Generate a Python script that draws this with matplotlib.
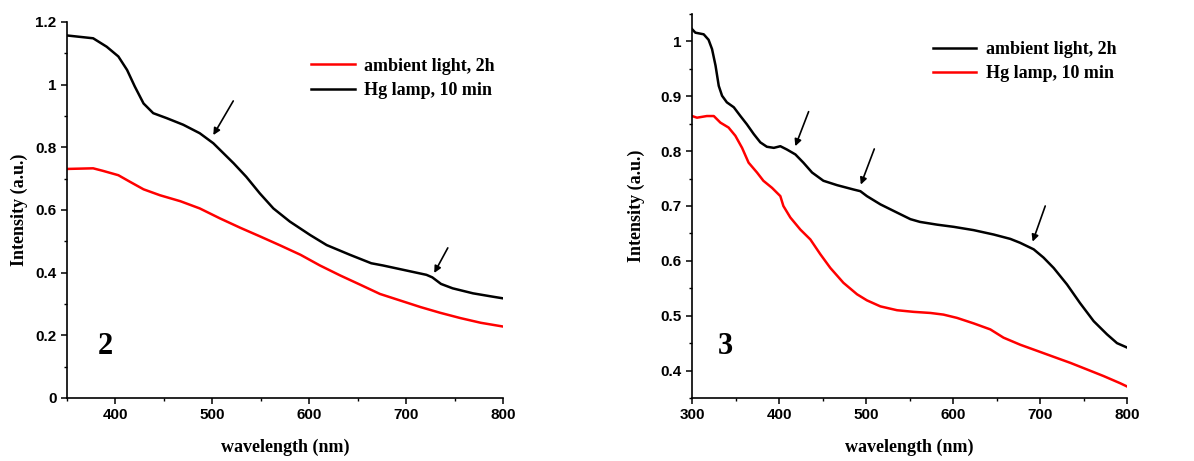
import matplotlib
matplotlib.use("Agg")
import matplotlib.pyplot as plt
import numpy as np
from matplotlib.ticker import MultipleLocator

# panel 2 spectra
wl2_hg = [350, 377, 391, 403, 412, 420, 429, 439, 453, 470, 487, 501, 522, 535, 549,
          563, 580, 601, 618, 642, 664, 676, 700, 721, 727, 736, 748, 769, 790, 800]
int2_hg = [1.157, 1.148, 1.121, 1.09, 1.047, 0.994, 0.94, 0.909, 0.893, 0.872, 0.845,
           0.813, 0.749, 0.706, 0.653, 0.605, 0.563, 0.520, 0.488, 0.457, 0.430, 0.423,
           0.407, 0.393, 0.385, 0.364, 0.350, 0.334, 0.323, 0.318]
wl2_amb = [350, 377, 387, 403, 415, 429, 446, 467, 487, 508, 529, 549, 570, 591, 611,
           632, 653, 673, 694, 715, 735, 756, 777, 800]
int2_amb = [0.731, 0.733, 0.725, 0.711, 0.690, 0.666, 0.647, 0.628, 0.605, 0.573, 0.543,
            0.516, 0.487, 0.457, 0.423, 0.391, 0.361, 0.332, 0.311, 0.290, 0.272, 0.255,
            0.240, 0.228]

# panel 3 spectra
wl3_amb = [300, 303.8, 313.4, 319, 323, 327, 330.7, 334.5, 340, 348, 355.6, 363, 371,
           378.5, 386, 394, 401.5, 409, 418.8, 428, 438, 451, 466.7, 485.8, 493.5, 501,
           516.5, 535.6, 551, 562, 581.6, 600.8, 623.7, 646.7, 665.9, 677, 692.7, 704,
           715.7, 731, 746, 761.7, 777, 788.5, 800]
int3_amb = [1.0225, 1.016, 1.013, 1.003, 0.986, 0.956, 0.919, 0.901, 0.889, 0.880, 0.864,
            0.849, 0.831, 0.816, 0.808, 0.806, 0.809, 0.803, 0.794, 0.779, 0.761, 0.746,
            0.738, 0.730, 0.727, 0.718, 0.703, 0.688, 0.676, 0.671, 0.666, 0.662, 0.656,
            0.648, 0.640, 0.633, 0.621, 0.606, 0.587, 0.557, 0.523, 0.490, 0.466, 0.450,
            0.442]
wl3_hg = [300, 305.7, 317, 325, 332.6, 342, 349.8, 357.5, 365, 374.7, 382, 392, 401.5,
          405, 413, 424.5, 436, 447.5, 459, 474, 489.7, 501, 516.5, 535.6, 554.8, 574,
          589, 604.6, 623.7, 642.9, 658, 677.4, 696.6, 715.7, 734.9, 754, 773, 792, 800]
int3_hg = [0.864, 0.861, 0.864, 0.864, 0.852, 0.843, 0.828, 0.806, 0.779, 0.761, 0.746,
           0.733, 0.718, 0.700, 0.679, 0.657, 0.639, 0.612, 0.587, 0.560, 0.539, 0.528,
           0.517, 0.510, 0.507, 0.505, 0.502, 0.496, 0.486, 0.475, 0.460, 0.447, 0.436,
           0.425, 0.414, 0.402, 0.390, 0.377, 0.371]

# arrows: (tail, head) in data units
arrows2 = [((521.6, 0.948), (501, 0.839)), ((743, 0.479), (729, 0.399))]
arrows3 = [((434, 0.872), (418.7, 0.809)), ((509.5, 0.804), (494, 0.739)),
           ((706, 0.700), (691.5, 0.635))]

serif = "Liberation Serif"
sans = "Liberation Sans"

fig = plt.figure(figsize=(11.94, 4.61), dpi=100)
ax1 = fig.add_axes([0.0561, 0.1367, 0.3652, 0.8156])
ax2 = fig.add_axes([0.5796, 0.1367, 0.3643, 0.8329])


def style_axes(ax, xlim, ylim, xmaj, ymaj, ypad):
    ax.set_xlim(*xlim)
    ax.set_ylim(*ylim)
    ax.spines["top"].set_visible(False)
    ax.spines["right"].set_visible(False)
    for s in ("left", "bottom"):
        ax.spines[s].set_linewidth(1.2)
    ax.xaxis.set_major_locator(MultipleLocator(xmaj))
    ax.xaxis.set_minor_locator(MultipleLocator(xmaj / 2))
    ax.yaxis.set_major_locator(MultipleLocator(ymaj))
    ax.yaxis.set_minor_locator(MultipleLocator(ymaj / 2))
    ax.tick_params(which="major", direction="out", length=4.5, width=1.1, pad=3)
    ax.tick_params(which="minor", direction="out", length=2.5, width=1.0)
    for lab in ax.get_xticklabels() + ax.get_yticklabels():
        lab.set_fontfamily(sans)
        lab.set_fontweight("bold")
        lab.set_fontsize(11)
    ax.set_xlabel("wavelength (nm)", fontfamily=serif, fontweight="bold", fontsize=13,
                  labelpad=12)
    ax.set_ylabel("Intensity (a.u.)", fontfamily=serif, fontweight="bold", fontsize=13,
                  labelpad=ypad)


def fmt(v, pos):
    if abs(v) < 1e-9:
        return "0"
    if abs(v - 1) < 1e-9:
        return "1"
    return f"{v:.1f}"


legend_kw = dict(frameon=False, prop=dict(family=serif, weight="bold", size=13),
                 handlelength=2.4, handletextpad=0.55, labelspacing=0.4,
                 borderpad=0, borderaxespad=0, loc="upper left")

# panel 2
ax1.plot(wl2_amb, int2_amb, color="red", lw=1.8, label="ambient light, 2h")
ax1.plot(wl2_hg, int2_hg, color="black", lw=1.8, label="Hg lamp, 10 min")
ax1.yaxis.set_major_formatter(plt.FuncFormatter(fmt))
style_axes(ax1, (350, 800), (0, 1.2), 100, 0.2, 5)
ax1.text(0.087, 0.136, "2", transform=ax1.transAxes, fontfamily=serif,
         fontweight="bold", fontsize=22, ha="center", va="center")
for tail, head in arrows2:
    ax1.annotate("", xy=head, xytext=tail,
                 arrowprops=dict(arrowstyle="-|>", color="black", lw=1.2,
                                 mutation_scale=10, shrinkA=0, shrinkB=0))
ax1.legend(bbox_to_anchor=(0.56, 0.905), **legend_kw)

# panel 3
ax2.plot(wl3_amb, int3_amb, color="black", lw=1.8, label="ambient light, 2h")
ax2.plot(wl3_hg, int3_hg, color="red", lw=1.8, label="Hg lamp, 10 min")
ax2.yaxis.set_major_formatter(plt.FuncFormatter(fmt))
style_axes(ax2, (300, 800), (0.35, 1.05), 100, 0.1, 11)
ax2.text(0.076, 0.133, "3", transform=ax2.transAxes, fontfamily=serif,
         fontweight="bold", fontsize=22, ha="center", va="center")
for tail, head in arrows3:
    ax2.annotate("", xy=head, xytext=tail,
                 arrowprops=dict(arrowstyle="-|>", color="black", lw=1.2,
                                 mutation_scale=10, shrinkA=0, shrinkB=0))
ax2.legend(bbox_to_anchor=(0.553, 0.93), **legend_kw)

fig.savefig("out.png", dpi=100)
